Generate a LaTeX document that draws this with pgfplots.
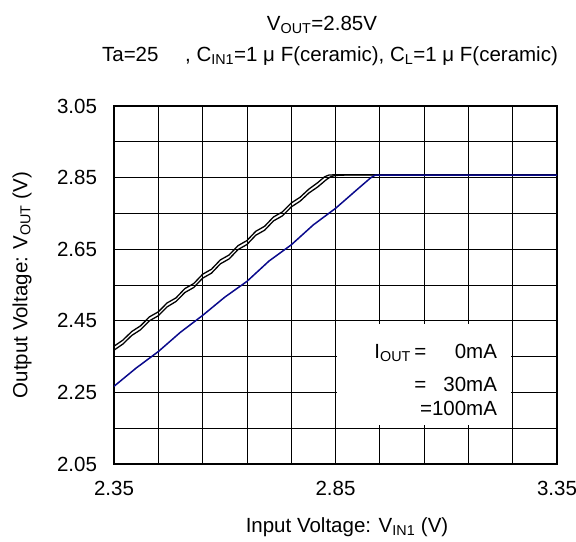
\documentclass[border=0pt]{standalone}
\usepackage{fontspec}
\setmainfont{Liberation Sans}
\usepackage{pgfplots}
\pgfplotsset{compat=1.18}
\definecolor{navy}{RGB}{10,10,140}
\begin{document}
\fontsize{20.5bp}{24bp}\selectfont
\begin{tikzpicture}
\useasboundingbox (-114bp,-78bp) rectangle (462bp,464bp);
\begin{axis}[
  at={(0,0)}, anchor=south west,
  scale only axis, width=443bp, height=358bp,
  xmin=2.35, xmax=3.35, ymin=2.05, ymax=3.05,
  xtick={2.35,2.85,3.35},
  minor xtick={2.45,2.55,2.65,2.75,2.95,3.05,3.15,3.25},
  ytick={2.05,2.25,2.45,2.65,2.85,3.05},
  minor ytick={2.15,2.35,2.55,2.75,2.95},
  grid=both,
  grid style={black, line width=0.8bp},
  minor grid style={black, line width=0.8bp},
  major tick length=0pt, minor tick length=0pt,
  axis line style={black, line width=1.6bp},
  /pgf/number format/assume math mode=true,
  /pgf/number format/fixed, /pgf/number format/fixed zerofill,
  /pgf/number format/precision=2,
  ticklabel style={font=\fontsize{20.5bp}{24bp}\selectfont},
  xticklabel style={yshift=-10bp},
  yticklabel style={xshift=-10bp},
]
\addplot[black, line width=1.3bp] coordinates {
(2.35,2.379)(2.37,2.396)(2.39,2.420)(2.41,2.436)(2.43,2.461)(2.45,2.475)
(2.47,2.500)(2.49,2.514)(2.51,2.540)(2.53,2.554)(2.55,2.580)(2.57,2.594)
(2.59,2.620)(2.61,2.634)(2.63,2.660)(2.65,2.674)(2.67,2.700)(2.69,2.714)
(2.71,2.740)(2.73,2.754)(2.75,2.779)(2.77,2.795)(2.79,2.818)(2.81,2.836)
(2.825,2.852)(2.835,2.857)(2.85,2.858)(3.35,2.858)};
\addplot[black, line width=1.3bp] coordinates {
(2.35,2.368)(2.37,2.385)(2.39,2.409)(2.41,2.425)(2.43,2.450)(2.45,2.464)
(2.47,2.489)(2.49,2.504)(2.51,2.529)(2.53,2.543)(2.55,2.569)(2.57,2.583)
(2.59,2.609)(2.61,2.623)(2.63,2.649)(2.65,2.663)(2.67,2.689)(2.69,2.703)
(2.71,2.729)(2.73,2.743)(2.75,2.768)(2.77,2.784)(2.79,2.807)(2.81,2.824)
(2.83,2.845)(2.84,2.853)(2.85,2.856)(2.87,2.857)(3.35,2.857)};
\addplot[navy, line width=1.5bp] coordinates {
(2.35,2.267)(2.40,2.318)(2.45,2.364)(2.50,2.418)(2.55,2.465)(2.60,2.516)
(2.65,2.560)(2.70,2.617)(2.75,2.662)(2.80,2.718)(2.85,2.764)(2.90,2.818)
(2.93,2.850)(2.94,2.857)(3.35,2.857)};
\fill[white] (axis cs:2.853,2.158) rectangle (axis cs:3.246,2.44);
\node[anchor=east, inner sep=0pt] at (axis cs:3.215,2.36) {I\textsubscript{OUT}\,=\ \phantom{10}0mA};
\node[anchor=east, inner sep=0pt] at (axis cs:3.215,2.272) {=\ \phantom{1}30mA};
\node[anchor=east, inner sep=0pt] at (axis cs:3.215,2.206) {=100mA};
\end{axis}
\node at (208bp,439bp) {V\textsubscript{OUT}=2.85V};
\node at (216bp,408bp) {Ta=25\hspace{1.3em}, C\textsubscript{IN1}=1 μ F(ceramic), C\textsubscript{L}=1 μ F(ceramic)};
\node at (233bp,-63bp) {Input Voltage: V\textsubscript{IN1} (V)};
\node[rotate=90] at (-92bp,179bp) {Output Voltage: V\textsubscript{OUT} (V)};
\end{tikzpicture}
\end{document}
